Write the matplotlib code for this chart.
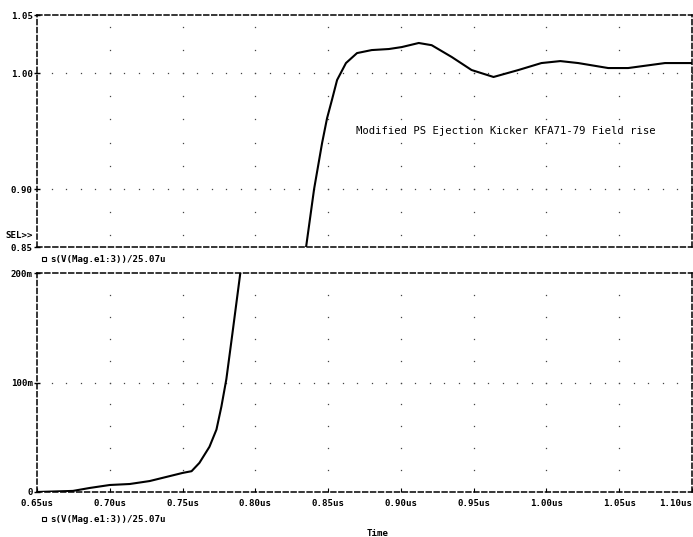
"""Field rise of the modified PS ejection kicker, two-panel transient plot."""

import matplotlib
matplotlib.use("Agg")
import matplotlib.pyplot as plt
from matplotlib.lines import Line2D
import numpy as np

# Integrated magnet voltage, normalised (one trace, shown on two scales)
time_us = [0.650, 0.6747, 0.6863, 0.700, 0.7137, 0.7274, 0.739, 0.750, 0.7562,
           0.7616, 0.7685, 0.7733, 0.7767, 0.7801, 0.7842, 0.7897,
           0.8349, 0.8404, 0.8459, 0.8493, 0.8527, 0.8562, 0.8623, 0.8699,
           0.880, 0.8918, 0.9007, 0.9123, 0.9212, 0.935, 0.9486, 0.9637,
           0.9808, 0.9966, 1.0096, 1.0219, 1.0425, 1.0562, 1.0815, 1.0986, 1.100]
field = [0.000, 0.001, 0.0037, 0.0064, 0.0073, 0.010, 0.0138, 0.0174, 0.019,
         0.0266, 0.0413, 0.057, 0.078, 0.103, 0.144, 0.200,
         0.850, 0.900, 0.9397, 0.961, 0.977, 0.994, 1.0086, 1.0172,
         1.0198, 1.0207, 1.0224, 1.0259, 1.024, 1.0138, 1.0026, 0.9966,
         1.0026, 1.0086, 1.0103, 1.0086, 1.0043, 1.0043, 1.0086, 1.0086, 1.0086]

x_ticks = [0.65, 0.70, 0.75, 0.80, 0.85, 0.90, 0.95, 1.00, 1.05, 1.10]
x_labels = ["0.65us", "0.70us", "0.75us", "0.80us", "0.85us",
            "0.90us", "0.95us", "1.00us", "1.05us", "1.10us"]

top_ticks = [0.85, 0.90, 1.00, 1.05]
top_labels = ["0.85", "0.90", "1.00", "1.05"]
low_ticks = [0.0, 0.1, 0.2]
low_labels = ["0", "100m", "200m"]

trace_name = "s(V(Mag.e1:3))/25.07u"
title_text = "Modified PS Ejection Kicker KFA71-79 Field rise"

mono = "DejaVu Sans Mono"
fs = 6.6
dash = (0, (3.2, 2.0))

fig = plt.figure(figsize=(6.93, 5.37), dpi=100)
ax_top = fig.add_axes([0.0534, 0.540, 0.945, 0.432])
ax_low = fig.add_axes([0.0534, 0.0838, 0.945, 0.4078])


def _style(ax, yticks, ylabels, ylim, major_inner, dot_rows):
    ax.set_xlim(x_ticks[0], x_ticks[-1])
    ax.set_ylim(*ylim)
    for side in ("top", "left", "right", "bottom"):
        ax.spines[side].set_linestyle(dash)
        ax.spines[side].set_linewidth(1.1)
        ax.spines[side].set_color("black")
    ax.set_yticks(yticks)
    ax.set_yticklabels(ylabels, family=mono, weight="bold", fontsize=fs)
    ax.tick_params(axis="y", direction="inout", length=4, width=1, pad=1)
    ax.set_xticks(x_ticks)
    ax.tick_params(axis="x", direction="in", length=3, width=0.8)

    # dotted grid: vertical dot columns and horizontal dotted lines
    gx, gy = np.meshgrid(x_ticks[1:-1], dot_rows)
    ax.plot(gx.ravel(), gy.ravel(), ls="none", marker="s", ms=0.9,
            color="#444444", mew=0)
    hx = np.arange(x_ticks[0] + 0.01, x_ticks[-1], 0.01)
    for yv in major_inner:
        ax.plot(hx, np.full_like(hx, yv), ls="none", marker="s", ms=0.9,
                color="#444444", mew=0)

    ax.plot(time_us, field, color="black", lw=1.5, solid_joinstyle="round")


_style(ax_top, top_ticks, top_labels, (0.85, 1.05), [0.90, 1.00],
       np.arange(0.86, 1.045, 0.02))
ax_top.set_xticklabels([])
ax_top.tick_params(axis="x", length=0)

_style(ax_low, low_ticks, low_labels, (0.0, 0.2), [0.1],
       np.arange(0.02, 0.185, 0.02))
ax_low.set_xticklabels(x_labels, family=mono, weight="bold", fontsize=fs)
ax_low.tick_params(axis="x", pad=5)
last = ax_low.get_xticklabels()[-1]
last.set_ha("right")

ax_top.text(0.8692, 0.950, title_text, family=mono, fontsize=7.6,
            ha="left", va="center")

# selection marker and trace legends
fig.text(5 / 693, 1 - 236 / 537, "SEL>>", family=mono, weight="bold",
         fontsize=fs, ha="left", va="center")
for ypix in (259, 519):
    yf = 1 - ypix / 537
    fig.add_artist(Line2D([44 / 693], [yf], marker="s", ms=2.8, mfc="white",
                          mec="black", mew=0.8, transform=fig.transFigure))
    fig.text(50 / 693, yf, trace_name, family=mono, weight="bold",
             fontsize=fs, ha="left", va="center")

fig.text(378 / 693, 1 - 533 / 537, "Time", family=mono, weight="bold",
         fontsize=fs, ha="center", va="center")

fig.savefig("out.png", dpi=100, facecolor="white")
plt.close(fig)
